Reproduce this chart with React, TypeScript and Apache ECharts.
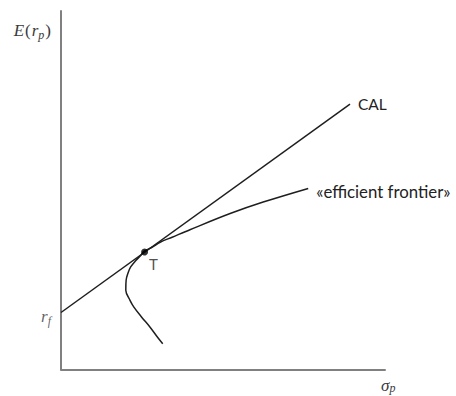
import React, { useEffect, useRef } from "react";
import * as echarts from "echarts";

// Capital allocation line: risk-free rate on the vertical axis, ends beyond the tangency portfolio
const riskFree = 1.59;
const calEndSigma = 8.92;
const calEndReturn = 7.4;

// Tangency portfolio T
const tangencySigma = 2.58;
const tangencyReturn = 3.28;

// Minimum-variance frontier, traced from its lower end up through T
const frontierSigma = [3.14, 2.98, 2.75, 2.49, 2.25, 2.13, 2.0, 2.01, 2.06, 2.15, 2.31, 2.46, 2.57, 2.81, 3.06, 3.43, 3.98, 5.22, 6.24, 7.63];
const frontierReturn = [0.72, 0.9, 1.18, 1.46, 1.74, 1.93, 2.21, 2.49, 2.67, 2.86, 3.04, 3.18, 3.3, 3.41, 3.55, 3.69, 3.9, 4.35, 4.67, 5.05];

const serif = "Liberation Serif";
const sans = "Lato";
const textColor = "#3a3a3a";

const mathRich = {
  it: { fontFamily: serif, fontStyle: "italic" as const, fontSize: 17, color: textColor, lineHeight: 22 },
  n: { fontFamily: serif, fontSize: 17, color: textColor, lineHeight: 22, padding: [0, 1, 0, 1] },
  sub: { fontFamily: serif, fontStyle: "italic" as const, fontSize: 12, color: textColor, lineHeight: 22, padding: [9, 0, 0, 0] },
};

// tighter line box for the title sitting near the bottom edge
const bottomRich = {
  it: { fontFamily: serif, fontStyle: "italic" as const, fontSize: 17, color: textColor, lineHeight: 18 },
  sub: { fontFamily: serif, fontStyle: "italic" as const, fontSize: 12, color: textColor, lineHeight: 18, padding: [6, 0, 0, 0] },
};

export default function App() {
  const ref = useRef<HTMLDivElement>(null);

  useEffect(() => {
    if (!ref.current) return;
    const chart = echarts.init(ref.current, undefined, { renderer: "svg" });

    const frontier = frontierSigma.map((s, i) => [s, frontierReturn[i]]);

    chart.setOption({
      animation: false,
      backgroundColor: "#ffffff",
      grid: { left: 61, top: 11, right: 71, bottom: 26.5 },
      // horizontal axis title, σp, just under the end of the axis
      graphic: [
        {
          type: "text",
          left: 381,
          top: 376,
          style: {
            text: "{it|σ}{sub|p}",
            rich: bottomRich,
            fill: textColor,
          },
        },
      ],
      xAxis: {
        type: "value",
        min: 0,
        max: 10,
        axisLine: { show: true, lineStyle: { color: "#808080", width: 2 } },
        axisTick: { show: false },
        axisLabel: { show: false },
        splitLine: { show: false },
      },
      yAxis: {
        type: "value",
        min: 0,
        max: 10,
        axisLine: { show: true, lineStyle: { color: "#808080", width: 2 } },
        axisTick: { show: false },
        axisLabel: { show: false },
        splitLine: { show: false },
        name: "{it|E}{n|(}{it|r}{sub|p}{n|)}",
        nameLocation: "end",
        nameGap: -19,
        nameTextStyle: {
          align: "right",
          verticalAlign: "middle",
          padding: [0, 9, 0, 0],
          color: textColor,
          rich: mathRich,
        },
      },
      series: [
        {
          type: "line",
          name: "CAL",
          data: [
            [0, riskFree],
            [calEndSigma, calEndReturn],
          ],
          showSymbol: false,
          symbol: "none",
          lineStyle: { color: "#1e1e1e", width: 1.5 },
          endLabel: {
            show: true,
            formatter: "CAL",
            distance: 8,
            fontFamily: sans,
            fontSize: 15.5,
            color: "#222",
          },
          clip: false,
          z: 3,
        },
        {
          type: "line",
          name: "efficient frontier",
          data: frontier,
          smooth: 0.35,
          showSymbol: false,
          symbol: "none",
          lineStyle: { color: "#1e1e1e", width: 1.5 },
          endLabel: {
            show: true,
            formatter: "«efficient frontier»",
            distance: 8,
            offset: [0, 3],
            fontFamily: sans,
            fontSize: 16.8,
            color: "#222",
          },
          clip: false,
          z: 3,
        },
        {
          // risk-free rate marker on the vertical axis
          type: "scatter",
          name: "rf",
          data: [[0, riskFree]],
          symbolSize: 0,
          itemStyle: { color: textColor },
          label: {
            show: true,
            position: "left",
            distance: 10,
            offset: [0, 4],
            color: textColor,
            formatter: "{it|r}{sub|f}",
            rich: mathRich,
          },
          z: 4,
        },
        {
          type: "scatter",
          name: "T",
          data: [[tangencySigma, tangencyReturn]],
          symbol: "circle",
          symbolSize: 7,
          itemStyle: { color: "#000" },
          label: {
            show: true,
            formatter: "T",
            position: [8, 8],
            fontFamily: sans,
            fontSize: 15,
            color: "#222",
            textBorderWidth: 0,
          },
          z: 4,
        },
      ],
    });

    return () => chart.dispose();
  }, []);

  return (
    <div
      ref={ref}
      style={{ position: "fixed", left: 0, top: 0, width: 456, height: 396 }}
    />
  );
}
